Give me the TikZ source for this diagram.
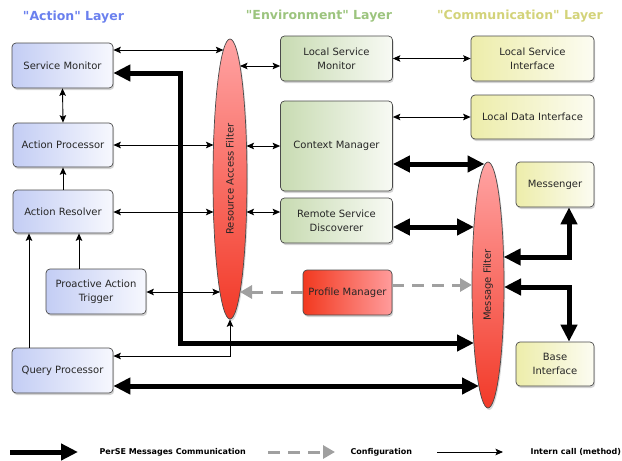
\documentclass[tikz,border=0pt]{standalone}
\usepackage{fontspec}
\setmainfont{DejaVu Sans}
\usetikzlibrary{shapes.geometric,shadows,arrows.meta}

\definecolor{actL}{HTML}{C3CDF4}
\definecolor{actR}{HTML}{F7F8FE}
\definecolor{envL}{HTML}{C8DBB2}
\definecolor{envR}{HTML}{F8FAF4}
\definecolor{comL}{HTML}{EDEDAA}
\definecolor{comR}{HTML}{FCFCF2}
\definecolor{pmL}{HTML}{F2391F}
\definecolor{pmR}{HTML}{FF9C9C}
\definecolor{filterTop}{HTML}{FFA3A3}
\definecolor{filterBot}{HTML}{F23A28}
\definecolor{edge}{HTML}{4A4A4A}
\definecolor{actHead}{HTML}{6A80EE}
\definecolor{envHead}{HTML}{9CC47E}
\definecolor{comHead}{HTML}{D3D37A}
\definecolor{cfg}{HTML}{A0A0A0}

\newcommand{\qq}{\textquotedbl}

\tikzset{
  box/.style={draw=edge, line width=0.7pt, rounded corners=4pt, align=center,
    inner sep=0pt, text=black!85,
    font=\fontsize{10}{14}\selectfont,
    drop shadow={shadow xshift=1.2pt, shadow yshift=-2pt, opacity=0.35}},
  actbox/.style={box, left color=actL, right color=actR},
  envbox/.style={box, left color=envL, right color=envR},
  combox/.style={box, left color=comL, right color=comR},
  pmbox/.style={box, left color=pmL, right color=pmR},
  filter/.style={ellipse, draw=edge, line width=0.7pt, inner sep=0pt,
    top color=filterTop, bottom color=filterBot,
    drop shadow={shadow xshift=1.2pt, shadow yshift=-2pt, opacity=0.3}},
  filterlabel/.style={rotate=90, font=\fontsize{10}{12}\selectfont, text=black!85},
  layerhead/.style={font=\fontsize{12.5}{14}\selectfont\bfseries},
  legendtext/.style={font=\fontsize{8}{10}\selectfont\bfseries, anchor=west},
  call/.style={line width=0.9pt, {Stealth[length=7.5pt,width=6.5pt,inset=1.5pt]}-{Stealth[length=7.5pt,width=6.5pt,inset=1.5pt]}},
  callone/.style={line width=0.9pt, -{Stealth[length=7.5pt,width=6.5pt,inset=1.5pt]}},
  msgflow/.style={line width=5pt, {Triangle[length=17pt,width=16pt]}-{Triangle[length=17pt,width=16pt]}},
  msgone/.style={line width=5pt, -{Triangle[length=17pt,width=16pt]}},
  config/.style={line width=3pt, draw=cfg, dash pattern=on 12pt off 8pt,
    -{Triangle[length=12pt,width=13pt,fill=cfg]}},
}

\begin{document}
\begin{tikzpicture}[x=1pt, y=-1pt]
\useasboundingbox (0,0) rectangle (622,461);

% layer titles
\node[layerhead, text=actHead] (hAct) at (73.5,17) {\qq Action\qq{} Layer};
\node[layerhead, text=envHead] (hEnv) at (319,16) {\qq Environment\qq{} Layer};
\node[layerhead, text=comHead] (hCom) at (520,16) {\qq Communication\qq{} Layer};

% action layer
\node[actbox, minimum width=101pt, minimum height=45pt] (sm)  at (62.5,65.5) {Service Monitor};
\node[actbox, minimum width=100pt, minimum height=44pt] (ap)  at (63,145) {Action Processor};
\node[actbox, minimum width=100pt, minimum height=43pt] (ar)  at (63,211.5) {Action Resolver};
\node[actbox, minimum width=100pt, minimum height=45pt] (pat) at (96,291.5) {Proactive Action\\Trigger};
\node[actbox, minimum width=101pt, minimum height=45pt] (qp)  at (62.5,370.5) {Query Processor};

% environment layer
\node[envbox, minimum width=112pt, minimum height=45pt] (lsm) at (336.5,58.5) {Local Service\\Monitor};
\node[envbox, minimum width=112pt, minimum height=90pt] (cm)  at (336.5,146) {Context Manager};
\node[envbox, minimum width=112pt, minimum height=45pt] (rsd) at (336.5,220.5) {Remote Service\\Discoverer};
\node[pmbox,  minimum width=89pt,  minimum height=45pt] (pm)  at (347.5,292.5) {Profile Manager};

% communication layer
\node[combox, minimum width=123pt, minimum height=45pt] (lsi) at (532.5,58.5) {Local Service\\Interface};
\node[combox, minimum width=123pt, minimum height=44pt] (ldi) at (532.5,117) {Local Data Interface};
\node[combox, minimum width=78pt,  minimum height=45pt] (msg) at (555,184.5) {Messenger};
\node[combox, minimum width=78pt,  minimum height=44pt] (bi)  at (555,364) {Base\\Interface};

% filters
\node[filter, minimum width=34pt, minimum height=280pt] (raf) at (230,179) {};
\node[filterlabel] (rafText) at (raf.center) {Resource Access Filter};
\node[filter, minimum width=32pt, minimum height=246pt] (mf) at (488,285) {};
\node[filterlabel] (mfText) at (mf.center) {Message Filter};

% points on the filter outlines
\coordinate (raf-sm)  at (223.4,50);
\coordinate (raf-lsm) at (240,66);
\coordinate (raf-ap)  at (213.5,145);
\coordinate (raf-cm)  at (246.5,146);
\coordinate (raf-ar)  at (213.5,212);
\coordinate (raf-rsd) at (246.5,212);
\coordinate (raf-pat) at (220,292);
\coordinate (raf-pm)  at (240,292);
\coordinate (mf-cm)   at (484.5,164);
\coordinate (mf-rsd)  at (474,227);
\coordinate (mf-msg)  at (503.6,257);
\coordinate (mf-pm)   at (472,285);
\coordinate (mf-bi)   at (504,287);
\coordinate (mf-sm)   at (474,343);
\coordinate (mf-qp)   at (479,386);

% method calls inside the action layer
\draw[call] (sm.south) -- (ap.north);
\draw[callone] (ar.north) -- (ap.south);
\draw[callone] ([xshift=-17pt]pat.north) -- ([xshift=-17pt]pat.north |- ar.south);
\draw[callone] ([xshift=-33.5pt]qp.north) -- ([xshift=-33.5pt]qp.north |- ar.south);

% method calls through the resource access filter
\draw[call] (sm.east |- raf-sm) -- (raf-sm);
\draw[call] (ap.east |- raf-ap) -- (raf-ap);
\draw[call] (ar.east |- raf-ar) -- (raf-ar);
\draw[call] (pat.east |- raf-pat) -- (raf-pat);
\draw[call] ([yshift=14.5pt]qp.east) -| (raf.south);
\draw[call] (raf-lsm) -- (lsm.west |- raf-lsm);
\draw[call] (raf-cm) -- (cm.west |- raf-cm);
\draw[call] (raf-rsd) -- (rsd.west |- raf-rsd);
\draw[call] (lsm.east) -- (lsi.west);
\draw[call] (cm.east |- ldi) -- (ldi.west);

% PerSE messages
\draw[msgflow] ([yshift=-7.5pt]sm.east) -- ++(67,0) |- (mf-sm);
\draw[msgflow] (qp.east |- mf-qp) -- (mf-qp);
\draw[msgflow] (cm.east |- mf-cm) -- (mf-cm);
\draw[msgflow] (rsd.east |- mf-rsd) -- (mf-rsd);
\draw[msgflow] ([xshift=14pt]msg.south) |- (mf-msg);
\draw[msgflow] (mf-bi) -| ([xshift=14pt]bi.north);

% configuration
\draw[config] (pm.west |- raf-pm) -- (raf-pm);
\draw[config] (pm.east |- mf-pm) -- (mf-pm);

% legend
\coordinate (l1a) at (10,452);
\coordinate (l1b) at (78,452);
\draw[msgone] (l1a) -- (l1b);
\node[legendtext] (l1t) at (96,452) {PerSE Messages Communication};
\coordinate (l2a) at (268,452);
\coordinate (l2b) at (335,452);
\draw[config] (l2a) -- (l2b);
\node[legendtext] (l2t) at (347,452) {Configuration};
\coordinate (l3a) at (437,452);
\coordinate (l3b) at (503,452);
\draw[callone] (l3a) -- (l3b);
\node[legendtext] (l3t) at (527,452) {Intern call (method)};
\end{tikzpicture}
\end{document}
